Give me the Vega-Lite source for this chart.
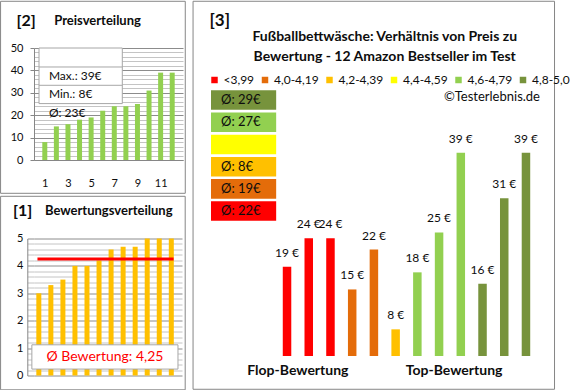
{
  "$schema": "https://vega.github.io/schema/vega-lite/v6.json",
  "padding": 0,
  "autosize": {"type": "pad"},
  "background": "white",
  "config": {"font": "Lato", "view": {"stroke": null}, "axis": {"labelOverlap": false}},
  "datasets": {
    "produkte": [
      {"rang": 1, "preis": 19, "bewertung": 3.0, "klasse": "<3,99"},
      {"rang": 2, "preis": 24, "bewertung": 3.3, "klasse": "<3,99"},
      {"rang": 3, "preis": 24, "bewertung": 3.5, "klasse": "<3,99"},
      {"rang": 4, "preis": 15, "bewertung": 4.0, "klasse": "4,0-4,19"},
      {"rang": 5, "preis": 22, "bewertung": 4.0, "klasse": "4,0-4,19"},
      {"rang": 6, "preis": 8, "bewertung": 4.2, "klasse": "4,2-4,39"},
      {"rang": 7, "preis": 18, "bewertung": 4.6, "klasse": "4,6-4,79"},
      {"rang": 8, "preis": 25, "bewertung": 4.7, "klasse": "4,6-4,79"},
      {"rang": 9, "preis": 39, "bewertung": 4.7, "klasse": "4,6-4,79"},
      {"rang": 10, "preis": 16, "bewertung": 5.0, "klasse": "4,8-5,0"},
      {"rang": 11, "preis": 31, "bewertung": 5.0, "klasse": "4,8-5,0"},
      {"rang": 12, "preis": 39, "bewertung": 5.0, "klasse": "4,8-5,0"}
    ],
    "klassen": [
      {"klasse": "4,8-5,0", "text": "Ø: 29€"},
      {"klasse": "4,6-4,79", "text": "Ø: 27€"},
      {"klasse": "4,4-4,59", "text": ""},
      {"klasse": "4,2-4,39", "text": "Ø: 8€"},
      {"klasse": "4,0-4,19", "text": "Ø: 19€"},
      {"klasse": "<3,99", "text": "Ø: 22€"}
    ]
  },
  "spacing": 6,
  "bounds": "full",
  "resolve": {"scale": {"color": "independent"}, "legend": {"color": "independent"}},
  "hconcat": [
    {
      "spacing": 1.5,
      "bounds": "full",
      "vconcat": [
        {
          "width": 149,
          "height": 112,
          "resolve": {"axis": {"x": "independent", "y": "independent"}},
          "layer": [
            {"data": {"values": [{}]}, "mark": {"type": "rect", "filled": false, "stroke": "#868686", "strokeWidth": 1},
             "encoding": {"x": {"datum": -2.818, "type": "quantitative", "scale": {"domainMin": 0.5, "domainMax": 12.5, "nice": false, "zero": false}, "axis": null}, "x2": {"datum": 13.128},
                          "y": {"datum": 70.85, "type": "quantitative", "scale": {"domainMin": 0, "domainMax": 50, "nice": false, "zero": false}, "axis": null}, "y2": {"datum": -14.87}}},
            {"data": {"name": "produkte"},
             "transform": [{"window": [{"op": "row_number", "as": "preisrang"}], "sort": [{"field": "preis", "order": "ascending"}]}],
             "mark": {"type": "bar", "color": "#92D050", "size": 5},
             "encoding": {
               "x": {"field": "preisrang", "type": "quantitative", "scale": {"domainMin": 0.5, "domainMax": 12.5, "nice": false, "zero": false},
                     "axis": {"values": [1, 3, 5, 7, 9, 11], "title": null, "grid": false, "ticks": false, "domainColor": "#868686", "labelPadding": 17, "labelFontSize": 11, "labelColor": "#0d0d0d", "labelFlush": false, "labelOverlap": false}},
               "y": {"field": "preis", "type": "quantitative", "scale": {"domainMin": 0, "domainMax": 50, "nice": false, "zero": false},
                     "axis": {"values": [0,2,4,6,8,10,12,14,16,18,20,22,24,26,28,30,32,34,36,38,40,42,44,46,48,50],
                              "title": null, "grid": true,
                              "gridColor": {"condition": {"test": "datum.value % 10 === 0", "value": "#8c8c8c"}, "value": "#c4c4c4"},
                              "tickSize": 4, "tickColor": "#868686",
                              "tickOpacity": {"condition": {"test": "datum.value % 10 === 0", "value": 1}, "value": 0},
                              "labelExpr": "datum.value % 10 === 0 ? datum.label : ''",
                              "labelOverlap": false, "labelPadding": 7, "labelFontSize": 11, "labelColor": "#0d0d0d", "domainColor": "#868686"}}
             }},
            {"data": {"values": [{}]}, "mark": {"type": "rect", "fill": "white", "stroke": "#a6a6a6", "strokeWidth": 1},
             "encoding": {"x": {"datum": 0.5, "type": "quantitative", "scale": {"domainMin": 0.5, "domainMax": 12.5, "nice": false, "zero": false}, "axis": null}, "x2": {"datum": 7.692},
                          "y": {"datum": 50, "type": "quantitative", "scale": {"domainMin": 0, "domainMax": 50, "nice": false, "zero": false}, "axis": null}, "y2": {"datum": 25.18}}},
            {"data": {"values": [{}]}, "mark": {"type": "rule", "color": "#a6a6a6", "strokeWidth": 1},
             "encoding": {"x": {"datum": 0.5, "type": "quantitative", "scale": {"domainMin": 0.5, "domainMax": 12.5, "nice": false, "zero": false}, "axis": null}, "x2": {"datum": 7.692},
                          "y": {"datum": 41.52, "type": "quantitative", "scale": {"domainMin": 0, "domainMax": 50, "nice": false, "zero": false}, "axis": null}}},
            {"data": {"values": [{}]}, "mark": {"type": "rule", "color": "#a6a6a6", "strokeWidth": 1},
             "encoding": {"x": {"datum": 0.5, "type": "quantitative", "scale": {"domainMin": 0.5, "domainMax": 12.5, "nice": false, "zero": false}, "axis": null}, "x2": {"datum": 7.692},
                          "y": {"datum": 33.35, "type": "quantitative", "scale": {"domainMin": 0, "domainMax": 50, "nice": false, "zero": false}, "axis": null}}},
            {"data": {"values": [{}]}, "mark": {"type": "text", "text": ["Max.: 39€", "Min.: 8€", "Ø: 23€"], "align": "left", "baseline": "middle", "lineHeight": 18.4, "fontSize": 12, "color": "#0d0d0d"},
             "encoding": {"x": {"datum": 1.354, "type": "quantitative", "scale": {"domainMin": 0.5, "domainMax": 12.5, "nice": false, "zero": false}, "axis": null},
                          "y": {"datum": 37.59, "type": "quantitative", "scale": {"domainMin": 0, "domainMax": 50, "nice": false, "zero": false}, "axis": null}}},
            {"data": {"values": [{}]}, "mark": {"type": "text", "text": "[2]", "fontSize": 16, "fontWeight": "bold", "align": "center", "baseline": "middle", "color": "#0d0d0d"},
             "encoding": {"x": {"datum": -0.603, "type": "quantitative", "scale": {"domainMin": 0.5, "domainMax": 12.5, "nice": false, "zero": false}, "axis": null},
                          "y": {"datum": 62.14, "type": "quantitative", "scale": {"domainMin": 0, "domainMax": 50, "nice": false, "zero": false}, "axis": null}}},
            {"data": {"values": [{}]}, "mark": {"type": "text", "text": "Preisverteilung", "fontSize": 13, "fontWeight": "bold", "align": "left", "baseline": "middle", "color": "#0d0d0d"},
             "encoding": {"x": {"datum": 1.813, "type": "quantitative", "scale": {"domainMin": 0.5, "domainMax": 12.5, "nice": false, "zero": false}, "axis": null},
                          "y": {"datum": 62.14, "type": "quantitative", "scale": {"domainMin": 0, "domainMax": 50, "nice": false, "zero": false}, "axis": null}}}
          ]
        },
        {
          "width": 148,
          "height": 137,
          "resolve": {"axis": {"x": "independent", "y": "independent"}},
          "layer": [
            {"data": {"values": [{}]}, "mark": {"type": "rect", "filled": false, "stroke": "#868686", "strokeWidth": 1},
             "encoding": {"x": {"datum": -2.175, "type": "quantitative", "scale": {"domainMin": 1.015, "domainMax": 12.473, "nice": false, "zero": false}, "axis": null}, "x2": {"datum": 13.154},
                          "y": {"datum": 6.54, "type": "quantitative", "scale": {"domainMin": 0, "domainMax": 5, "nice": false, "zero": false}, "axis": null}, "y2": {"datum": -0.522}}},
            {"data": {"name": "produkte"},
             "mark": {"type": "bar", "color": "#FFC000", "size": 5},
             "encoding": {
               "x": {"field": "rang", "type": "quantitative", "scale": {"domainMin": 1.015, "domainMax": 12.473, "nice": false, "zero": false}, "axis": null},
               "y": {"field": "bewertung", "type": "quantitative", "scale": {"domainMin": 0, "domainMax": 5, "nice": false, "zero": false},
                     "axis": {"values": [0,0.2,0.4,0.6,0.8,1,1.2,1.4,1.6,1.8,2,2.2,2.4,2.6,2.8,3,3.2,3.4,3.6,3.8,4,4.2,4.4,4.6,4.8,5],
                              "title": null, "grid": true, "offset": 6.7,
                              "gridColor": {"condition": {"test": "datum.value % 1 === 0", "value": "#8c8c8c"}, "value": "#c4c4c4"},
                              "tickSize": -6.7,
                              "tickColor": {"condition": {"test": "datum.value % 1 === 0", "value": "#8c8c8c"}, "value": "#c4c4c4"},
                              "labelExpr": "datum.value % 1 === 0 ? format(datum.value, 'd') : ''",
                              "labelOverlap": false, "labelPadding": 11, "labelFontSize": 11, "labelColor": "#0d0d0d", "domainColor": "#868686"}}
             }},
            {"data": {"name": "produkte"},
             "mark": {"type": "rule", "color": "#FF0000", "strokeWidth": 3},
             "encoding": {"x": {"datum": 0.887, "type": "quantitative", "scale": {"domainMin": 1.015, "domainMax": 12.473, "nice": false, "zero": false}, "axis": null}, "x2": {"datum": 12.19},
                          "y": {"aggregate": "mean", "field": "bewertung", "type": "quantitative", "scale": {"domainMin": 0, "domainMax": 5, "nice": false, "zero": false}, "axis": null}}},
            {"data": {"values": [{}]}, "mark": {"type": "rect", "fill": "white", "stroke": "#a6a6a6", "strokeWidth": 1},
             "encoding": {"x": {"datum": 0.423, "type": "quantitative", "scale": {"domainMin": 1.015, "domainMax": 12.473, "nice": false, "zero": false}, "axis": null}, "x2": {"datum": 12.554},
                          "y": {"datum": 1.12, "type": "quantitative", "scale": {"domainMin": 0, "domainMax": 5, "nice": false, "zero": false}, "axis": null}, "y2": {"datum": 0.234}}},
            {"data": {"values": [{}]}, "mark": {"type": "text", "text": "Ø Bewertung: 4,25", "fontSize": 14, "align": "center", "baseline": "middle", "color": "#FF0000"},
             "encoding": {"x": {"datum": 6.488, "type": "quantitative", "scale": {"domainMin": 1.015, "domainMax": 12.473, "nice": false, "zero": false}, "axis": null},
                          "y": {"datum": 0.664, "type": "quantitative", "scale": {"domainMin": 0, "domainMax": 5, "nice": false, "zero": false}, "axis": null}}},
            {"data": {"values": [{}]}, "mark": {"type": "text", "text": "[1]", "fontSize": 16, "fontWeight": "bold", "align": "center", "baseline": "middle", "color": "#0d0d0d"},
             "encoding": {"x": {"datum": -0.352, "type": "quantitative", "scale": {"domainMin": 1.015, "domainMax": 12.473, "nice": false, "zero": false}, "axis": null},
                          "y": {"datum": 6.011, "type": "quantitative", "scale": {"domainMin": 0, "domainMax": 5, "nice": false, "zero": false}, "axis": null}}},
            {"data": {"values": [{}]}, "mark": {"type": "text", "text": "Bewertungsverteilung", "fontSize": 13, "fontWeight": "bold", "align": "left", "baseline": "middle", "color": "#0d0d0d"},
             "encoding": {"x": {"datum": 1.506, "type": "quantitative", "scale": {"domainMin": 1.015, "domainMax": 12.473, "nice": false, "zero": false}, "axis": null},
                          "y": {"datum": 6.011, "type": "quantitative", "scale": {"domainMin": 0, "domainMax": 5, "nice": false, "zero": false}, "axis": null}}}
          ]
        }
      ]
    },
    {
      "width": 338,
      "height": 308,
      "resolve": {"scale": {"y": "independent"}, "axis": {"x": "independent", "y": "independent"}},
      "layer": [
        {
          "resolve": {"axis": {"x": "independent", "y": "independent"}},
          "layer": [
            {"data": {"values": [{}]}, "mark": {"type": "rect", "filled": false, "stroke": "#868686", "strokeWidth": 1},
             "encoding": {"x": {"datum": -3.326, "type": "quantitative", "scale": {"domainMin": -2.5, "domainMax": 12.6, "nice": false, "zero": false}, "axis": null}, "x2": {"datum": 13.315},
                          "y": {"datum": 65.57, "type": "quantitative", "scale": {"domainMin": 3.32, "domainMax": 57.37, "nice": false, "zero": false}, "axis": null}, "y2": {"datum": -2.52}}},
            {"data": {"name": "produkte"},
             "mark": {"type": "bar", "size": 8.5},
             "encoding": {
               "x": {"field": "rang", "type": "quantitative", "scale": {"domainMin": -2.5, "domainMax": 12.6, "nice": false, "zero": false},
                     "axis": {"values": [1.476, 8.669], "labelExpr": "datum.value < 5 ? 'Flop-Bewertung' : 'Top-Bewertung'", "title": null, "grid": false, "ticks": false, "domain": false, "labelPadding": 7, "labelFontSize": 14, "labelFontWeight": "bold", "labelColor": "#0d0d0d", "labelFlush": false, "labelOverlap": false}},
               "y": {"field": "preis", "type": "quantitative", "scale": {"domainMin": 3.32, "domainMax": 57.37, "nice": false, "zero": false}, "axis": null},
               "y2": {"datum": 3.32},
               "color": {"field": "klasse", "type": "nominal",
                         "scale": {"domain": ["<3,99", "4,0-4,19", "4,2-4,39", "4,4-4,59", "4,6-4,79", "4,8-5,0"], "range": ["#FF0000", "#E46C0A", "#FFC000", "#FFFF00", "#92D050", "#77933C"]},
                         "legend": {"orient": "none", "legendX": 2.5, "legendY": 26, "direction": "horizontal", "title": null, "symbolType": "square", "symbolSize": 42, "symbolStrokeWidth": 0, "labelFontSize": 12, "labelOffset": 3, "columnPadding": 4.5, "padding": 0, "labelColor": "#0d0d0d"}}
             }},
            {"data": {"name": "produkte"},
             "transform": [{"calculate": "datum.preis + ' €'", "as": "label"}],
             "mark": {"type": "text", "fontSize": 12, "baseline": "middle", "align": "center", "dy": -14, "color": "#0d0d0d"},
             "encoding": {
               "x": {"field": "rang", "type": "quantitative", "scale": {"domainMin": -2.5, "domainMax": 12.6, "nice": false, "zero": false}, "axis": null},
               "y": {"field": "preis", "type": "quantitative", "scale": {"domainMin": 3.32, "domainMax": 57.37, "nice": false, "zero": false}, "axis": null},
               "text": {"field": "label"}
             }},
            {"data": {"values": [{}]}, "mark": {"type": "text", "text": "[3]", "fontSize": 17, "fontWeight": "bold", "align": "center", "baseline": "middle", "color": "#0d0d0d"},
             "encoding": {"x": {"datum": -2.098, "type": "quantitative", "scale": {"domainMin": -2.5, "domainMax": 12.6, "nice": false, "zero": false}, "axis": null},
                          "y": {"datum": 62.14, "type": "quantitative", "scale": {"domainMin": 3.32, "domainMax": 57.37, "nice": false, "zero": false}, "axis": null}}},
            {"data": {"values": [{}]}, "mark": {"type": "text", "text": ["Fußballbettwäsche: Verhältnis von Preis zu", "Bewertung - 12 Amazon Bestseller im Test"], "fontSize": 14, "fontWeight": "bold", "lineHeight": 20, "align": "center", "baseline": "middle", "color": "#0d0d0d"},
             "encoding": {"x": {"datum": 5.497, "type": "quantitative", "scale": {"domainMin": -2.5, "domainMax": 12.6, "nice": false, "zero": false}, "axis": null},
                          "y": {"datum": 59.25, "type": "quantitative", "scale": {"domainMin": 3.32, "domainMax": 57.37, "nice": false, "zero": false}, "axis": null}}},
            {"data": {"values": [{}]}, "mark": {"type": "text", "text": "©Testerlebnis.de", "fontSize": 13, "align": "right", "baseline": "middle", "color": "#0d0d0d"},
             "encoding": {"x": {"datum": 12.645, "type": "quantitative", "scale": {"domainMin": -2.5, "domainMax": 12.6, "nice": false, "zero": false}, "axis": null},
                          "y": {"datum": 48.72, "type": "quantitative", "scale": {"domainMin": 3.32, "domainMax": 57.37, "nice": false, "zero": false}, "axis": null}}}
          ]
        },
        {
          "data": {"name": "klassen"},
          "layer": [
            {"mark": {"type": "rect"},
             "encoding": {
               "x": {"datum": -2.5, "type": "quantitative", "scale": {"domainMin": -2.5, "domainMax": 12.6, "nice": false, "zero": false}, "axis": null},
               "x2": {"datum": 0.5},
               "y": {"field": "klasse", "type": "nominal", "axis": null,
                     "scale": {"type": "band", "domain": ["_0", "4,8-5,0", "4,6-4,79", "4,4-4,59", "4,2-4,39", "4,0-4,19", "<3,99", "_1", "_2", "_3", "_4", "_5"], "paddingInner": 0.12, "paddingOuter": 0.997, "align": 0.454}},
               "color": {"field": "klasse", "type": "nominal", "legend": null}
             }},
            {"mark": {"type": "text", "align": "left", "baseline": "middle", "fontSize": 13, "color": "#0d0d0d"},
             "encoding": {
               "x": {"datum": -2.04, "type": "quantitative", "scale": {"domainMin": -2.5, "domainMax": 12.6, "nice": false, "zero": false}, "axis": null},
               "y": {"field": "klasse", "type": "nominal", "axis": null},
               "text": {"field": "text"}
             }}
          ]
        }
      ]
    }
  ]
}
